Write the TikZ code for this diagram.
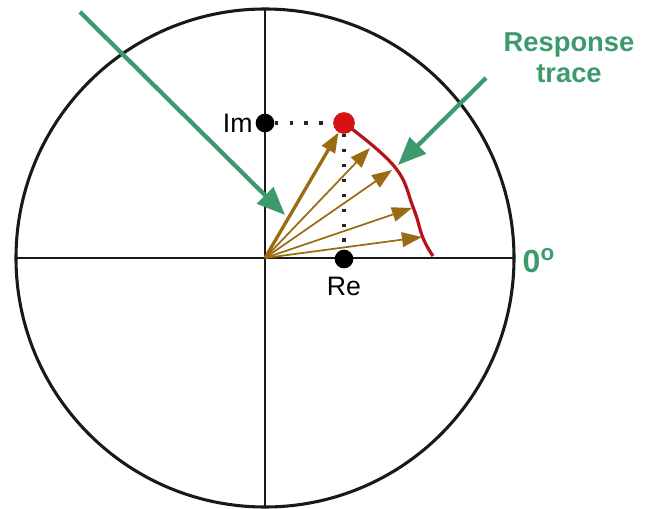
\documentclass[tikz,border=0pt]{standalone}
\usepackage{fontspec}
\setmainfont{Liberation Sans}
\usetikzlibrary{arrows.meta,positioning}
\definecolor{callg}{HTML}{3D9A6C}
\definecolor{vecc}{HTML}{9A6B12}
\definecolor{tracec}{HTML}{B3141C}
\definecolor{dotr}{HTML}{D81212}
\tikzset{
  ring/.style={draw=black!90,line width=2.3pt},
  axis/.style={draw=black!90,line width=2pt},
  vec/.style={draw=vecc,line width=1.3pt,-{Triangle[length=15pt,width=11pt]}},
  vecb/.style={vec,line width=2.5pt},
  trace/.style={draw=tracec,line width=2.4pt},
  guide/.style={draw=black!85,line width=2.6pt,dash pattern=on 2.6pt off 8.6pt},
  dotb/.style={circle,fill=black,inner sep=0pt,minimum size=14pt},
  dotred/.style={dotb,fill=dotr,minimum size=16pt},
  call/.style={draw=callg,line width=3.2pt,-{Triangle[length=21pt,width=17pt]}},
  lbl/.style={font=\fontsize{20}{24}\selectfont,inner sep=1pt},
  note/.style={font=\fontsize{20.5}{23}\selectfont\bfseries,text=callg,align=center},
}
\begin{document}
\begin{tikzpicture}[x=0.75pt,y=-0.75pt]
  \useasboundingbox (0,0) rectangle (646,509);
  \coordinate (O) at (265,258);
  % axes and unit circle
  \draw[axis] (O) ++(-249,0) -- ++(498,0);
  \draw[axis] (O) ++(0,-249) -- ++(0,498);
  \draw[ring] (O) circle[radius=249];
  % response point and its projections
  \node[dotb] (im) at (265,123) {};
  \node[dotred] (pt) at (344,123) {};
  \node[dotb] (re) at (344,259) {};
  \coordinate (t1) at (370,148);
  \coordinate (t2) at (392,170);
  \coordinate (t3) at (412,208);
  \coordinate (t4) at (422,237);
  \foreach \t in {t1,t2,t3,t4}
    \draw[vec] (O) -- (\t);
  \draw[vecb] (O) -- (pt);
  \draw[trace] plot[smooth,tension=0.7] coordinates
    {(344,123) (394,166) (413,207) (423,238) (433,256)};
  \node[dotred] at (pt) {};
  \draw[guide] (im) -- (pt);
  \draw[guide] (pt) -- (re);
  \node[lbl,left=1pt of im] (imlab) {Im};
  \node[lbl,below=5pt of re] (relab) {Re};
  % callouts
  \node[note] (resp) at (569,58) {Response\\trace};
  \node[note,font=\fontsize{24}{28}\selectfont\bfseries,anchor=west] (zero) at (518,261) {0\textsuperscript{o}};
  \coordinate (c1) at (80,12);
  \coordinate (a1) at (285,215);
  \coordinate (c2) at (486,78);
  \coordinate (a2) at (398,165);
  \draw[call] (c1) -- (a1);
  \draw[call] (c2) -- (a2);
\end{tikzpicture}
\end{document}
